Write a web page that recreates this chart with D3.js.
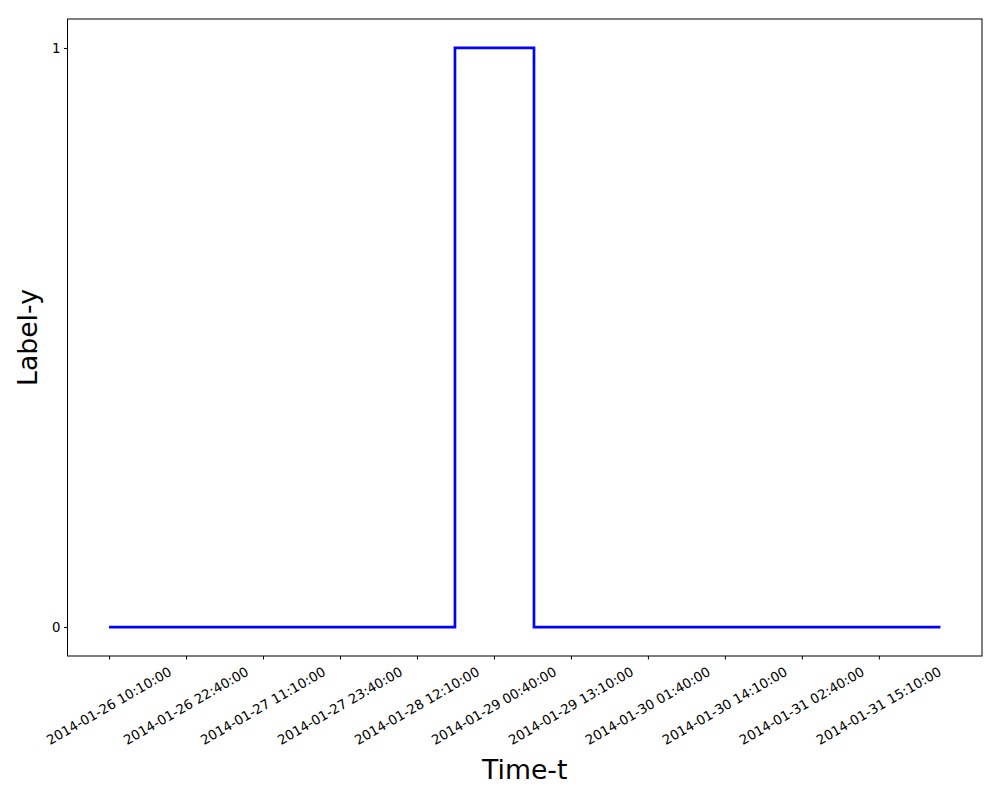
<!DOCTYPE html>
<html>
<head>
<meta charset="utf-8">
<script src="https://cdn.jsdelivr.net/npm/d3@7"></script>
<style>
  body { margin: 0; background: #fff; }
  svg { font-family: "DejaVu Sans", sans-serif; }
</style>
</head>
<body>
<svg id="chart"></svg>
<script>
// change points of the signal (drawn as steps)
let times = ["2014-01-26 10:10:00", "2014-01-28 18:20:00", "2014-01-29 07:10:00", "2014-02-01 01:10:00"];
let values = [0, 1, 0, 0];
let tickLabels = ["2014-01-26 10:10:00", "2014-01-26 22:40:00", "2014-01-27 11:10:00",
                  "2014-01-27 23:40:00", "2014-01-28 12:10:00", "2014-01-29 00:40:00",
                  "2014-01-29 13:10:00", "2014-01-30 01:40:00", "2014-01-30 14:10:00",
                  "2014-01-31 02:40:00", "2014-01-31 15:10:00"];
let yTicks = [0, 1];

let width = 1000;
let height = 800;
let margin = {left: 67.5, right: 18, top: 19, bottom: 144};

let parse = d3.timeParse("%Y-%m-%d %H:%M:%S");
let data = times.map((t, i) => ({t: parse(t), v: values[i]}));

let svg = d3.select("#chart")
    .attr("width", width)
    .attr("height", height);

let plotW = width - margin.left - margin.right;
let plotH = height - margin.top - margin.bottom;

// matplotlib style 5% margins
let tExt = d3.extent(data, d => d.t);
let pad = (tExt[1] - tExt[0]) * 0.05;
let xScale = d3.scaleTime()
    .domain([new Date(+tExt[0] - pad), new Date(+tExt[1] + pad)])
    .range([0, plotW]);

let yScale = d3.scaleLinear()
    .domain([-0.05, 1.05])
    .range([plotH, 0]);

let g = svg.append("g")
    .attr("transform", "translate(" + margin.left + "," + margin.top + ")");

//draw line
let line = d3.line()
    .x(d => xScale(d.t))
    .y(d => yScale(d.v))
    .curve(d3.curveStepAfter);

g.append("path")
    .datum(data)
    .attr("fill", "none")
    .attr("stroke", "#0000ff")
    .attr("stroke-width", 2.7)
    .attr("d", line);

//draw xAxis
let xAxis = d3.axisBottom(xScale)
    .tickValues(tickLabels.map(parse))
    .tickSize(3.5)
    .tickFormat("");

let xg = g.append("g")
    .attr("transform", "translate(0," + plotH + ")")
    .call(xAxis);
xg.select(".domain").remove();
xg.selectAll(".tick line").attr("stroke", "#000").attr("stroke-width", 1);

g.selectAll(".xlabel")
    .data(tickLabels)
    .enter().append("text")
    .attr("class", "xlabel")
    .attr("transform", d => "translate(" + xScale(parse(d)) + "," + (plotH + 50) + ") rotate(-30)")
    .attr("text-anchor", "middle")
    .attr("dominant-baseline", "central")
    .attr("font-size", "13.33px")
    .attr("fill", "#000")
    .text(d => d);

//draw yAxis
let yAxis = d3.axisLeft(yScale)
    .tickValues(yTicks)
    .tickSize(3.5)
    .tickPadding(3.5)
    .tickFormat(d3.format("d"));

let yg = g.append("g").call(yAxis);
yg.select(".domain").remove();
yg.selectAll(".tick line").attr("stroke", "#000").attr("stroke-width", 1);
yg.selectAll(".tick text")
    .attr("font-size", "13.33px")
    .attr("font-family", "DejaVu Sans")
    .attr("fill", "#000");

//frame
g.append("rect")
    .attr("x", 0)
    .attr("y", 0)
    .attr("width", plotW)
    .attr("height", plotH)
    .attr("fill", "none")
    .attr("stroke", "#000")
    .attr("stroke-width", 1);

//axis titles
svg.append("text")
    .attr("x", margin.left + plotW / 2)
    .attr("y", 779)
    .attr("text-anchor", "middle")
    .attr("font-size", "26.67px")
    .text("Time-t");

svg.append("text")
    .attr("transform", "translate(37," + (margin.top + plotH / 2) + ") rotate(-90)")
    .attr("text-anchor", "middle")
    .attr("font-size", "26.67px")
    .text("Label-y");
</script>
</body>
</html>
